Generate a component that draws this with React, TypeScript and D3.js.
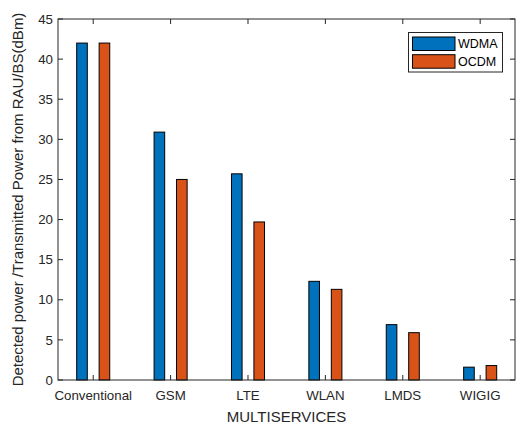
import React from "react";
import * as d3 from "d3";

const categories = ["Conventional", "GSM", "LTE", "WLAN", "LMDS", "WIGIG"];
const wdma = [42, 30.9, 25.7, 12.3, 6.9, 1.6];
const ocdm = [42, 25, 19.7, 11.3, 5.9, 1.8];
const seriesNames = ["WDMA", "OCDM"];
const yTicks = [0, 5, 10, 15, 20, 25, 30, 35, 40, 45];

const W = 521, H = 426;
const L = 58, R = 515, T = 19, B = 380;
const blue = "#0072BD", orange = "#D95319";
const axisCol = "#262626";
const font = "'Liberation Sans', Arial, Helvetica, sans-serif";

export default function App() {
  const x = d3.scaleLinear().domain([0.545, 6.45]).range([L, R]);
  const y = d3.scaleLinear().domain([0, 45]).range([B, T]);
  const off = 0.145, bw = 0.137;
  const series = [
    { name: seriesNames[0], vals: wdma, color: blue, dx: -off },
    { name: seriesNames[1], vals: ocdm, color: orange, dx: off },
  ];
  const tl = 5;
  return (
    <svg width={W} height={H} style={{ position: "absolute", left: 0, top: 0 }} fontFamily={font}>
      <rect x={0} y={0} width={W} height={H} fill="#fff" />
      {series.map((s) =>
        s.vals.map((v, i) => {
          const cx = x(i + 1 + s.dx);
          const w = x(bw) - x(0);
          const x0 = cx - w / 2;
          return (
            <rect key={s.name + i} x={x0} y={y(v)} width={w} height={y(0) - y(v)} fill={s.color} stroke="#000" strokeWidth={1} />
          );
        })
      )}
      <rect x={L} y={T} width={R - L} height={B - T} fill="none" stroke={axisCol} strokeWidth={1} />
      {yTicks.map((t) => (
        <g key={t}>
          <line x1={L} x2={L + tl} y1={y(t)} y2={y(t)} stroke={axisCol} />
          <line x1={R} x2={R - tl} y1={y(t)} y2={y(t)} stroke={axisCol} />
          <text x={L - 5} y={y(t)} dy="0.35em" textAnchor="end" fontSize={13.3} fill={axisCol}>{t}</text>
        </g>
      ))}
      {categories.map((c, i) => (
        <g key={c}>
          <line x1={x(i + 1)} x2={x(i + 1)} y1={B} y2={B - tl} stroke={axisCol} />
          <line x1={x(i + 1)} x2={x(i + 1)} y1={T} y2={T + tl} stroke={axisCol} />
          <text x={x(i + 1)} y={400} textAnchor="middle" fontSize={13.3} fill={axisCol}>{c}</text>
        </g>
      ))}
      <text x={(L + R) / 2} y={421.5} textAnchor="middle" fontSize={15} fill={axisCol}>MULTISERVICES</text>
      <text transform={`translate(23,${(T + B) / 2}) rotate(-90)`} textAnchor="middle" fontSize={15} fill={axisCol}>
        Detected power /Transmitted Power from RAU/BS(dBm)
      </text>
      <rect x={408.5} y={32.5} width={94} height={39.5} fill="#fff" stroke={axisCol} strokeWidth={1} />
      {series.map((s, i) => (
        <g key={s.name}>
          <rect x={412.5} y={37 + i * 17.7} width={42.5} height={13.5} fill={s.color} stroke="#000" strokeWidth={1} />
          <text x={458} y={44 + i * 17.7} dy="0.35em" fontSize={12.5} fill="#000">{s.name}</text>
        </g>
      ))}
    </svg>
  );
}
